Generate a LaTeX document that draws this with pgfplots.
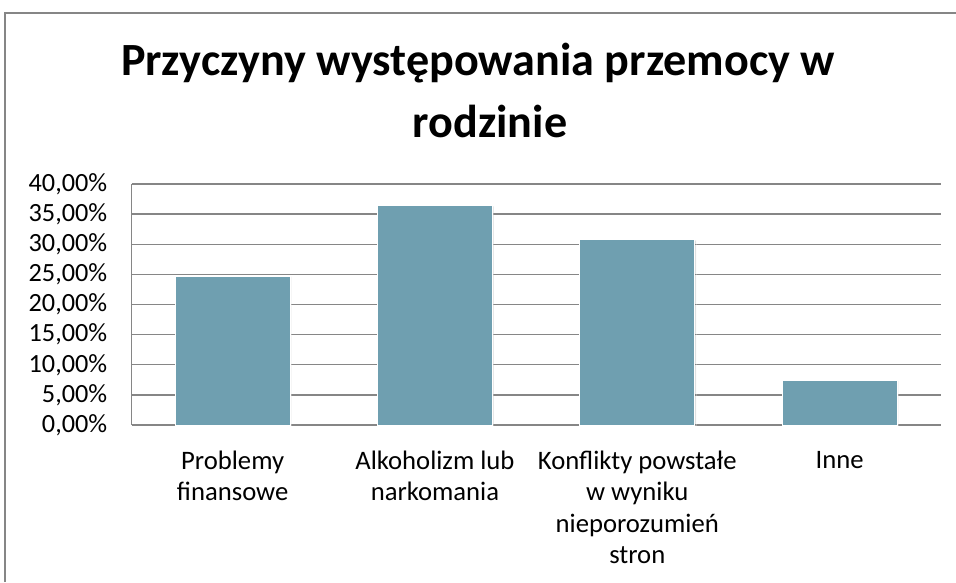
\documentclass[border=0pt]{standalone}
\usepackage{pgfplots}
\pgfplotsset{compat=1.18}
\usetikzlibrary{shadows}
\usepackage{fontspec}
\setmainfont{Carlito}
\definecolor{barc}{RGB}{111,159,176}
\definecolor{gridc}{RGB}{134,134,134}
\begin{document}
\begin{tikzpicture}
\path[use as bounding box] (0,0) rectangle (717pt,436.5pt);
\draw[gridc, line width=1.2pt] (3.75pt,0) -- (3.75pt,426.75pt) -- (717pt,426.75pt);
\node[anchor=base, inner sep=0pt, font=\fontsize{34.6}{40}\selectfont\bfseries] at (358.5pt,379.5pt) {Przyczyny występowania przemocy w};
\node[anchor=base, inner sep=0pt, font=\fontsize{34.6}{40}\selectfont\bfseries] at (367.5pt,333.5pt) {rodzinie};
\begin{axis}[
  at={(98.625pt,117.75pt)}, anchor=south west,
  scale only axis, width=606.9pt, height=180.75pt,
  xmin=-0.5, xmax=3.5, ymin=0, ymax=40,
  ytick={0,5,10,15,20,25,30,35,40},
  yticklabels={{0,00\%},{5,00\%},{10,00\%},{15,00\%},{20,00\%},{25,00\%},{30,00\%},{35,00\%},{40,00\%}},
  xtick={0,1,2,3},
  xticklabels={{Problemy\\finansowe},{Alkoholizm lub\\narkomania},{Konflikty powstałe\\w wyniku\\nieporozumień\\stron},{Inne}},
  xticklabel style={align=center, anchor=north, inner sep=0pt, yshift=-19.5pt, font=\fontsize{20}{23.4}\selectfont},
  yticklabel style={anchor=east, inner sep=0pt, xshift=-18pt, font=\fontsize{19.7}{23.4}\selectfont},
  axis x line*=bottom, axis y line*=left,
  axis line style={gridc, line width=1pt, -},
  ymajorgrids, major grid style={gridc, line width=1pt},
  major tick length=0pt,
]
\addplot[ybar, bar width=86.25pt, fill=barc, draw=white, line width=0.75pt,
  drop shadow={shadow xshift=1pt, shadow yshift=-0.5pt, opacity=0.25, fill=gray}]
  coordinates {(0,24.72) (1,36.38) (2,30.75) (3,7.38)};
\end{axis}
\end{tikzpicture}
\end{document}
